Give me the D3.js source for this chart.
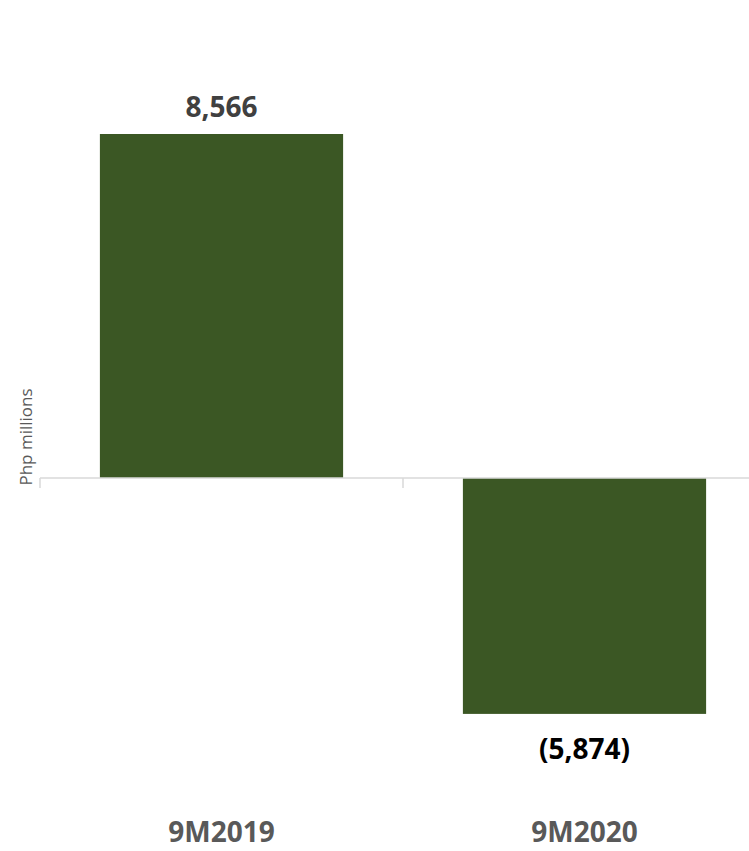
<!DOCTYPE html>
<html>
<head>
<meta charset="utf-8">
<script src="https://cdn.jsdelivr.net/npm/d3@7"></script>
<style>
  html, body { margin: 0; padding: 0; background: #ffffff; }
  svg { display: block; }
</style>
</head>
<body>
<svg id="chart" width="749" height="851"></svg>
<script>
// Net income by period, Php millions
const categories = ["9M2019", "9M2020"];
const values = [8566, -5874];
const valueLabels = ["8,566", "(5,874)"];

const W = 749, H = 851;
const svg = d3.select("#chart");

// zero line sits at y=478, category bands span 40..766
const x = d3.scaleBand()
  .domain(categories)
  .range([40, 766])
  .paddingInner(0.33)
  .paddingOuter(0.165);

const y = d3.scaleLinear()
  .domain([-5874, 8566])
  .range([713.9, 134]);

const barColor = "#3b5724";
const rows = categories.map((c, i) => ({ c, v: values[i], lbl: valueLabels[i] }));

// bars
svg.append("g").selectAll("rect")
  .data(rows)
  .join("rect")
  .attr("x", d => x(d.c))
  .attr("width", x.bandwidth())
  .attr("y", d => y(Math.max(0, d.v)))
  .attr("height", d => Math.abs(y(d.v) - y(0)))
  .attr("fill", barColor);

// category axis at zero, ticks at band boundaries
const axisG = svg.append("g");
axisG.append("line")
  .attr("x1", 40).attr("x2", W)
  .attr("y1", y(0)).attr("y2", y(0))
  .attr("stroke", "#d9d9d9").attr("stroke-width", 1.5);
const tickXs = categories.map(c => x(c) - x.step() * x.paddingInner() / 2);
axisG.selectAll("line.tick")
  .data(tickXs)
  .join("line")
  .attr("class", "tick")
  .attr("x1", d => d).attr("x2", d => d)
  .attr("y1", y(0)).attr("y2", y(0) + 10)
  .attr("stroke", "#d9d9d9").attr("stroke-width", 1.5);

// value labels
svg.append("g").selectAll("text")
  .data(rows)
  .join("text")
  .attr("x", d => x(d.c) + x.bandwidth() / 2)
  .attr("y", d => d.v >= 0 ? y(d.v) - 17 : y(d.v) + 45)
  .attr("text-anchor", "middle")
  .attr("font-family", "'Open Sans', sans-serif")
  .attr("font-weight", 700)
  .attr("font-size", 28)
  .attr("fill", d => d.v >= 0 ? "#404040" : "#000000")
  .text(d => d.lbl);

// category labels along the bottom
svg.append("g").selectAll("text")
  .data(categories)
  .join("text")
  .attr("x", d => x(d) + x.bandwidth() / 2)
  .attr("y", 842)
  .attr("text-anchor", "middle")
  .attr("font-family", "'Open Sans', sans-serif")
  .attr("font-weight", 700)
  .attr("font-size", 28)
  .attr("fill", "#595959")
  .text(d => d);

// y-axis title
svg.append("text")
  .attr("transform", "translate(32,437) rotate(-90)")
  .attr("text-anchor", "middle")
  .attr("font-family", "'Open Sans', sans-serif")
  .attr("font-size", 17)
  .attr("fill", "#595959")
  .text("Php millions");
</script>
</body>
</html>
